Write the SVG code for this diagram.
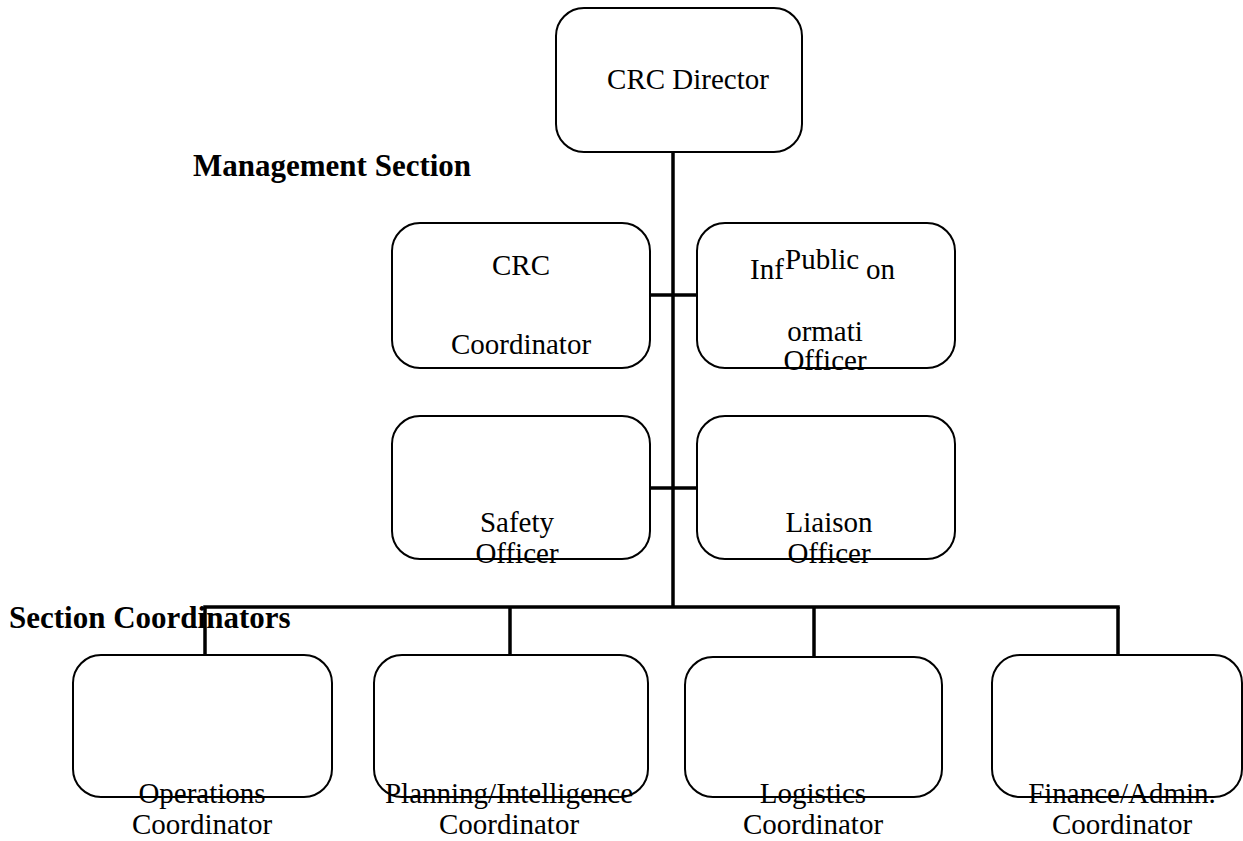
<svg xmlns="http://www.w3.org/2000/svg" width="1243" height="841" viewBox="0 0 1243 841">
  <style>
    .box { fill: none; stroke: #000; stroke-width: 2; }
    .wire { fill: none; stroke: #000; stroke-width: 3.5; stroke-linecap: butt; }
    .lbl { font-family: "Liberation Serif", "Times New Roman", serif; font-size: 29px; fill: #000; text-anchor: middle; }
    .lbl-l { font-family: "Liberation Serif", "Times New Roman", serif; font-size: 29px; fill: #000; text-anchor: start; }
    .head { font-family: "Liberation Serif", "Times New Roman", serif; font-size: 31px; font-weight: bold; fill: #000; }
  </style>
  <rect width="1243" height="841" fill="#fff"/>

  <!-- section headings -->
  <text class="head" x="193" y="176">Management Section</text>
  <text class="head" x="9" y="628">Section Coordinators</text>

  <!-- connectors -->
  <g id="connectors">
    <line class="wire" x1="673" y1="152" x2="673" y2="608"/>
    <line class="wire" x1="650" y1="295" x2="697" y2="295"/>
    <line class="wire" x1="650" y1="488" x2="697" y2="488"/>
    <line class="wire" x1="203.25" y1="607" x2="1119.75" y2="607"/>
    <line class="wire" x1="205" y1="607" x2="205" y2="655"/>
    <line class="wire" x1="510" y1="607" x2="510" y2="655"/>
    <line class="wire" x1="814" y1="607" x2="814" y2="657"/>
    <line class="wire" x1="1118" y1="607" x2="1118" y2="655"/>
  </g>

  <g id="director">
    <rect class="box" x="556" y="8" width="246" height="144" rx="28"/>
    <text class="lbl" x="688" y="89">CRC Director</text>
  </g>

  <g id="crc-coordinator">
    <rect class="box" x="392" y="223" width="258" height="145" rx="28"/>
    <text class="lbl" x="521" y="275">CRC</text>
    <text class="lbl" x="521" y="354">Coordinator</text>
  </g>

  <g id="public-information-officer">
    <rect class="box" x="697" y="223" width="258" height="145" rx="28"/>
    <text class="lbl-l" x="750" y="279">Inf</text>
    <text class="lbl-l" x="785" y="269">Public</text>
    <text class="lbl-l" x="866" y="279">on</text>
    <text class="lbl" x="825" y="341">ormati</text>
    <text class="lbl" x="825" y="370">Officer</text>
  </g>

  <g id="safety-officer">
    <rect class="box" x="392" y="416" width="258" height="143" rx="28"/>
    <text class="lbl" x="517" y="532">Safety</text>
    <text class="lbl" x="517" y="563">Officer</text>
  </g>

  <g id="liaison-officer">
    <rect class="box" x="697" y="416" width="258" height="143" rx="28"/>
    <text class="lbl" x="829" y="532">Liaison</text>
    <text class="lbl" x="829" y="563">Officer</text>
  </g>

  <g id="operations-coordinator">
    <rect class="box" x="73" y="655" width="259" height="142" rx="28"/>
    <text class="lbl" x="202" y="803">Operations</text>
    <text class="lbl" x="202" y="834">Coordinator</text>
  </g>

  <g id="planning-coordinator">
    <rect class="box" x="374" y="655" width="274" height="142" rx="28"/>
    <text class="lbl" x="509" y="803">Planning/Intelligence</text>
    <text class="lbl" x="509" y="834">Coordinator</text>
  </g>

  <g id="logistics-coordinator">
    <rect class="box" x="685" y="657" width="257" height="140" rx="28"/>
    <text class="lbl" x="813" y="803">Logistics</text>
    <text class="lbl" x="813" y="834">Coordinator</text>
  </g>

  <g id="finance-coordinator">
    <rect class="box" x="992" y="655" width="250" height="142" rx="28"/>
    <text class="lbl" x="1122" y="803">Finance/Admin.</text>
    <text class="lbl" x="1122" y="834">Coordinator</text>
  </g>
</svg>
